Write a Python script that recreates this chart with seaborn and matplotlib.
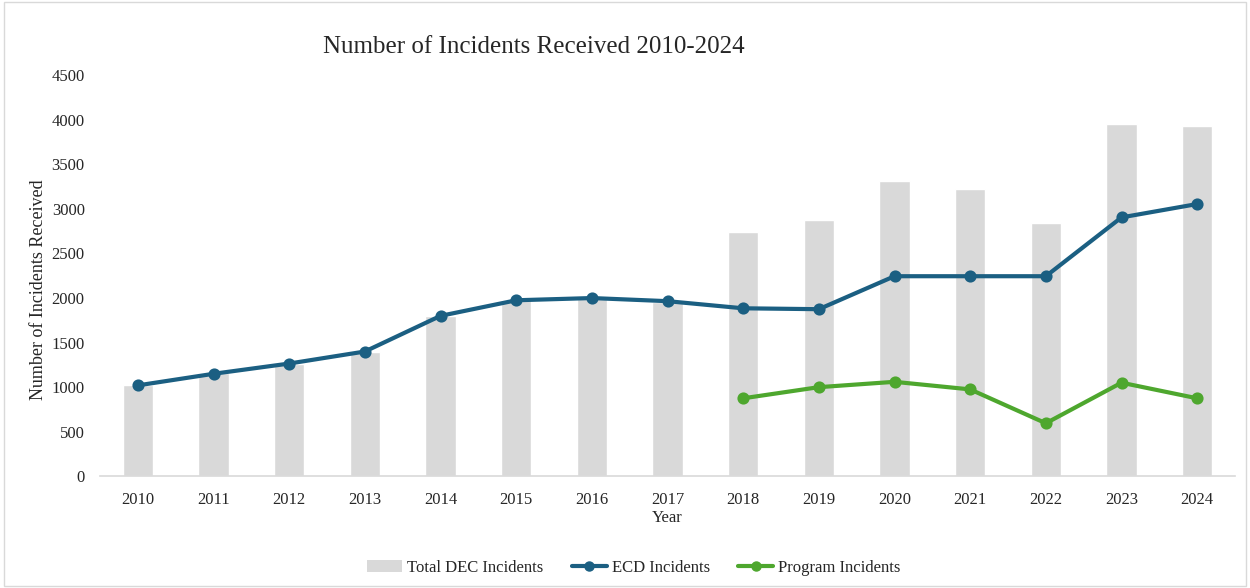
import pandas as pd
import matplotlib.pyplot as plt
import seaborn as sns
from matplotlib.patches import Patch, Rectangle
from matplotlib.lines import Line2D

# ---- data ----
years = [str(y) for y in range(2010, 2025)]
total_dec = [1020, 1155, 1265, 1400, 1795, 1975, 1995, 1955, 2740, 2875, 3310, 3220, 2840, 3950, 3930]
ecd = [1020, 1150, 1265, 1400, 1800, 1975, 2000, 1965, 1885, 1875, 2245, 2245, 2245, 2905, 3055]
prog_years = [str(y) for y in range(2018, 2025)]
program = [875, 1000, 1060, 975, 595, 1050, 875]

bar_color = "#D9D9D9"
ecd_color = "#1B5F82"
prog_color = "#4EA72E"

df = pd.DataFrame({"year": years, "total": total_dec, "ecd": ecd})
df_prog = pd.DataFrame({"year": prog_years, "program": program})

sns.set_style("white")
plt.rcParams["font.family"] = ["Liberation Serif", "DejaVu Serif"]

fig = plt.figure(figsize=(12.5, 5.88), dpi=100)
ax = fig.add_axes([0.08, 0.19, 0.908, 0.682])

sns.barplot(data=df, x="year", y="total", order=years, color=bar_color,
            width=0.4, saturation=1, ax=ax)
sns.pointplot(data=df, x="year", y="ecd", order=years, color=ecd_color,
              errorbar=None, linewidth=3, markersize=6.5, ax=ax)
sns.pointplot(data=df_prog, x="year", y="program", order=years, color=prog_color,
              errorbar=None, linewidth=3, markersize=6.5, ax=ax)

ax.set_xlim(-0.5, 14.5)
ax.set_ylim(0, 4500)
ax.set_yticks(range(0, 4501, 500))
ax.tick_params(axis="both", length=0, labelsize=12)
ax.tick_params(axis="y", pad=11)
ax.tick_params(axis="x", pad=11)
for s in ["top", "right", "left"]:
    ax.spines[s].set_visible(False)
ax.spines["bottom"].set_color("#D9D9D9")
ax.spines["bottom"].set_linewidth(1.2)

ax.set_xlabel("Year", fontsize=12, labelpad=2)
ax.set_ylabel("Number of Incidents Received", fontsize=13, labelpad=3.5, y=0.466)
fig.text(0.427, 0.92, "Number of Incidents Received 2010-2024", ha="center", va="center", fontsize=18)

handles = [
    Patch(facecolor=bar_color, edgecolor="none"),
    Line2D([0], [0], color=ecd_color, lw=3, marker="o", markersize=6.5),
    Line2D([0], [0], color=prog_color, lw=3, marker="o", markersize=6.5),
]
labels = ["Total DEC Incidents", "ECD Incidents", "Program Incidents"]
fig.legend(handles, labels, loc="center", bbox_to_anchor=(0.507, 0.034), ncol=3,
           frameon=False, fontsize=12, handlelength=2.1, columnspacing=1.7, handletextpad=0.3)

fig.add_artist(Rectangle((0.003, 0.003), 0.994, 0.994, transform=fig.transFigure,
                         fill=False, edgecolor="#D9D9D9", linewidth=1))

fig.savefig("out.png", dpi=100)
